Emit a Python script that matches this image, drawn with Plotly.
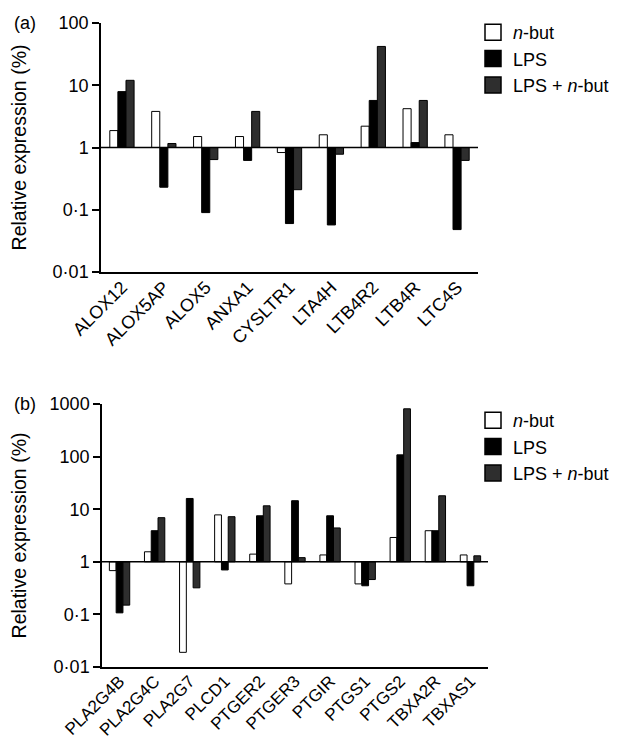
import plotly.graph_objects as go

# ---------------- data ----------------
genes_a = ["ALOX12", "ALOX5AP", "ALOX5", "ANXA1", "CYSLTR1", "LTA4H", "LTB4R2", "LTB4R", "LTC4S"]
nbut_a = [1.87, 3.8, 1.5, 1.5, 0.83, 1.6, 2.2, 4.2, 1.6]
lps_a = [7.9, 0.23, 0.09, 0.62, 0.06, 0.057, 5.7, 1.2, 0.048]
lpsnb_a = [12, 1.16, 0.64, 3.8, 0.21, 0.78, 42, 5.7, 0.62]

genes_b = ["PLA2G4B", "PLA2G4C", "PLA2G7", "PLCD1", "PTGER2", "PTGER3", "PTGIR",
           "PTGS1", "PTGS2", "TBXA2R", "TBXAS1"]
nbut_b = [0.68, 1.55, 0.019, 7.8, 1.4, 0.38, 1.35, 0.38, 2.9, 3.9, 1.35]
lps_b = [0.107, 3.9, 16, 0.7, 7.5, 14.5, 7.5, 0.35, 108, 3.9, 0.35]
lpsnb_b = [0.15, 6.9, 0.32, 7.2, 11.6, 1.2, 4.4, 0.46, 810, 18, 1.3]

series_names = ["<i>n</i>-but", "LPS", "LPS + <i>n</i>-but"]
series_colors = ["white", "black", "#2e2e2e"]

ticks_a = [0.01, 0.1, 1, 10, 100]
ticktext_a = ["0·01", "0·1", "1", "10", "100"]
ticks_b = [0.01, 0.1, 1, 10, 100, 1000]
ticktext_b = ["0·01", "0·1", "1", "10", "100", "1000"]

FONT = "Liberation Sans, Arial, Helvetica, sans-serif"
W, H = 617, 742

def px_x(p):
    return p / W

def px_y(p):
    return 1 - p / H

fig = go.Figure()

panels = [
    ("x", "y", genes_a, [nbut_a, lps_a, lpsnb_a], "legend"),
    ("x2", "y2", genes_b, [nbut_b, lps_b, lpsnb_b], "legend2"),
]
for xa, ya, genes, vals_list, leg in panels:
    for name, color, vals in zip(series_names, series_colors, vals_list):
        fig.add_trace(go.Bar(
            x=genes, y=[v - 1 for v in vals], base=1,
            marker=dict(color=color, line=dict(color="black", width=1)),
            xaxis=xa, yaxis=ya, showlegend=False, name=name,
            customdata=vals, hovertemplate="%{x}: %{customdata}<extra></extra>",
        ))
    # legend proxies
    for name, color in zip(series_names, series_colors):
        fig.add_trace(go.Scatter(
            x=[None], y=[None], mode="markers", name=name,
            marker=dict(symbol="square", size=22, color=color, line=dict(color="black", width=1.5)),
            xaxis=xa, yaxis=ya, legend=leg, showlegend=True,
        ))

axis_common_y = dict(
    type="log", showline=True, linecolor="black", linewidth=1.5, showgrid=False,
    zeroline=False, ticks="outside", ticklen=7, tickwidth=1.5, tickcolor="black",
    tickfont=dict(family=FONT, size=18, color="black"),
    title=dict(text="Relative expression (%)", font=dict(family=FONT, size=19.5, color="black"),
               standoff=22),
    automargin=False,
)
axis_common_x = dict(
    showline=True, linecolor="black", linewidth=1.5, showgrid=False, zeroline=False,
    ticks="", tickangle=-45, ticklabelstandoff=-4,
    automargin=False,
)

fig.update_layout(
    width=W, height=H,
    margin=dict(l=0, r=0, t=0, b=0),
    paper_bgcolor="white", plot_bgcolor="white",
    barmode="group", bargap=0.42, bargroupgap=0,
    font=dict(family=FONT, color="black"),
    xaxis=dict(domain=[px_x(93), px_x(470)], anchor="y",
               tickfont=dict(family=FONT, size=18, color="black"), **axis_common_x),
    yaxis=dict(domain=[px_y(264), px_y(15)], anchor="x", range=[-2, 2],
               tickvals=ticks_a, ticktext=ticktext_a, **axis_common_y),
    xaxis2=dict(domain=[px_x(94), px_x(480)], anchor="y2",
                tickfont=dict(family=FONT, size=17, color="black"), **axis_common_x),
    yaxis2=dict(domain=[px_y(659), px_y(396)], anchor="x2", range=[-2, 3],
                tickvals=ticks_b, ticktext=ticktext_b, **axis_common_y),
    legend=dict(x=px_x(465), y=px_y(6), xanchor="left", yanchor="top",
                font=dict(family=FONT, size=18, color="black"), bgcolor="rgba(0,0,0,0)",
                tracegroupgap=0),
    legend2=dict(x=px_x(465), y=px_y(394), xanchor="left", yanchor="top",
                 font=dict(family=FONT, size=18, color="black"), bgcolor="rgba(0,0,0,0)",
                 tracegroupgap=0),
    shapes=[
        dict(type="line", xref="x domain", x0=0, x1=1, yref="y", y0=1, y1=1,
             line=dict(color="black", width=1.5), layer="above"),
        dict(type="line", xref="x2 domain", x0=0, x1=1, yref="y2", y0=1, y1=1,
             line=dict(color="black", width=1.5), layer="above"),
    ],
    annotations=[
        dict(text="(a)", xref="paper", yref="paper", x=px_x(4), y=px_y(15), xanchor="left",
             yanchor="middle", showarrow=False, font=dict(family=FONT, size=18, color="black")),
        dict(text="(b)", xref="paper", yref="paper", x=px_x(4), y=px_y(396), xanchor="left",
             yanchor="middle", showarrow=False, font=dict(family=FONT, size=18, color="black")),
    ],
)

fig.write_html("out.html")
